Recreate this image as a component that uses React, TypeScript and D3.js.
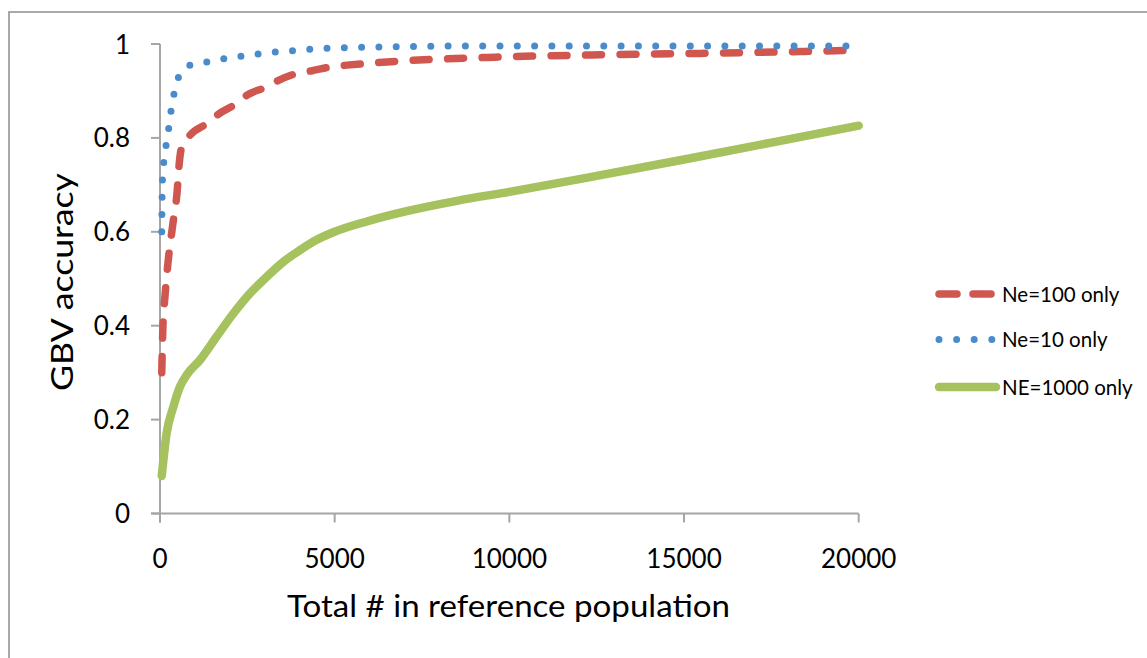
import React from "react";
import * as d3 from "d3";

const xTicks = [0, 5000, 10000, 15000, 20000];
const yTicks = [0, 0.2, 0.4, 0.6, 0.8, 1];

const ne100N = [50, 80, 145, 230, 365, 490, 550, 620, 860, 1374, 1660, 2204, 2490, 3063, 3378, 3950, 4350, 4952, 5353, 5954, 6956, 9590, 12600, 15460, 18320, 20000];
const ne100V = [0.30, 0.39, 0.465, 0.535, 0.615, 0.685, 0.745, 0.78, 0.806, 0.832, 0.85, 0.874, 0.891, 0.909, 0.922, 0.938, 0.943, 0.952, 0.955, 0.959, 0.964, 0.972, 0.977, 0.98, 0.984, 0.987];

const ne10N = [50, 65, 105, 172, 248, 315, 401, 534, 859, 1354, 1841, 2339, 2825, 3320, 3816, 4313, 4809, 5801, 6792, 9000, 20000];
const ne10V = [0.60, 0.70, 0.746, 0.783, 0.82, 0.857, 0.894, 0.93, 0.955, 0.962, 0.969, 0.974, 0.979, 0.983, 0.986, 0.989, 0.991, 0.993, 0.994, 0.996, 0.996];

const ne1000N = [50, 190, 382, 572, 763, 1145, 1623, 2100, 2576, 3054, 3530, 4007, 4486, 4961, 5917, 7060, 8500, 10000, 12500, 15000, 17500, 20000];
const ne1000V = [0.08, 0.171, 0.227, 0.27, 0.295, 0.327, 0.377, 0.426, 0.469, 0.504, 0.536, 0.561, 0.583, 0.599, 0.622, 0.644, 0.666, 0.685, 0.719, 0.754, 0.79, 0.826];

const seriesNames = ["Ne=100 only", "Ne=10 only", "NE=1000 only"];

const RED = "#D0574F";
const BLUE = "#4A8CCB";
const GREEN = "#A5C25E";
const AXIS = "#A6A6A6";
const FONT = "Lato, 'Open Sans', sans-serif";

export default function App() {
  const x = d3.scaleLinear().domain([0, 20000]).range([160, 858.7]);
  const y = d3.scaleLinear().domain([0, 1]).range([513.5, 44]);
  const line = d3
    .line<[number, number]>()
    .x((d) => x(d[0]))
    .y((d) => y(d[1]))
    .curve(d3.curveMonotoneX);
  const zip = (a: number[], b: number[]) => a.map((v, i) => [v, b[i]] as [number, number]);

  const redPath = line(zip(ne100N, ne100V)) || "";
  const bluePath = line(zip(ne10N, ne10V)) || "";
  const greenPath = line(zip(ne1000N, ne1000V)) || "";

  const x0 = x(0);
  const yb = y(0);
  const tickLen = 9;

  const legendX1 = 936;
  const legendX2 = 998;
  const legendY = [294, 339.5, 387];

  return (
    <svg
      width={1147}
      height={658}
      style={{ position: "absolute", left: 0, top: 0, background: "#fff" }}
      fontFamily={FONT}
    >
      <rect x={9} y={12} width={1200} height={700} fill="none" stroke="#A0A0A0" strokeWidth={1.8} />

      {/* axes */}
      <g stroke={AXIS} strokeWidth={2} fill="none">
        <line x1={x0} x2={x0} y1={y(1)} y2={yb + tickLen} />
        <line x1={x0 - tickLen} x2={x(20000)} y1={yb} y2={yb} />
        {yTicks.map((t) => (
          <line key={"yt" + t} x1={x0 - tickLen} x2={x0} y1={y(t)} y2={y(t)} />
        ))}
        {xTicks.map((t) => (
          <line key={"xt" + t} x1={x(t)} x2={x(t)} y1={yb} y2={yb + tickLen} />
        ))}
      </g>

      {yTicks.map((t) => (
        <text key={"yl" + t} x={130} y={y(t) + 9.5} textAnchor="end" fontSize={26} fill="#000">
          {String(t)}
        </text>
      ))}
      {xTicks.map((t) => (
        <text key={"xl" + t} x={x(t)} y={568} textAnchor="middle" fontSize={26} fill="#000">
          {String(t)}
        </text>
      ))}

      <text x={508.5} y={617} textAnchor="middle" fontSize={31} fill="#000" textLength={443} lengthAdjust="spacingAndGlyphs">
        Total # in reference population
      </text>
      <text
        transform={`translate(73,282) rotate(-90)`}
        textAnchor="middle"
        fontSize={31}
        fill="#000"
        textLength={218}
        lengthAdjust="spacingAndGlyphs"
      >
        GBV accuracy
      </text>

      {/* series */}
      <path d={redPath} fill="none" stroke={RED} strokeWidth={7.5} strokeDasharray="16 18.5" strokeLinecap="round" />
      <path d={greenPath} fill="none" stroke={GREEN} strokeWidth={8.5} strokeLinecap="round" strokeLinejoin="round" />
      <path d={bluePath} fill="none" stroke={BLUE} strokeWidth={7} strokeDasharray="0 17.3" strokeLinecap="round" />

      {/* legend */}
      <line x1={legendX1 + 3} x2={legendX2 - 2} y1={legendY[0]} y2={legendY[0]} stroke={RED} strokeWidth={7.5} strokeDasharray="18 16" strokeLinecap="round" />
      <line x1={legendX1 + 3} x2={legendX2 - 5} y1={legendY[1]} y2={legendY[1]} stroke={BLUE} strokeWidth={7} strokeDasharray="0 17.6" strokeLinecap="round" />
      <line x1={legendX1 + 3} x2={legendX2 - 2} y1={legendY[2]} y2={legendY[2]} stroke={GREEN} strokeWidth={8.5} strokeLinecap="round" />
      {seriesNames.map((n, i) => (
        <text key={n} x={1002} y={legendY[i] + 7.5} fontSize={20.5} fill="#000">
          {n}
        </text>
      ))}
    </svg>
  );
}
